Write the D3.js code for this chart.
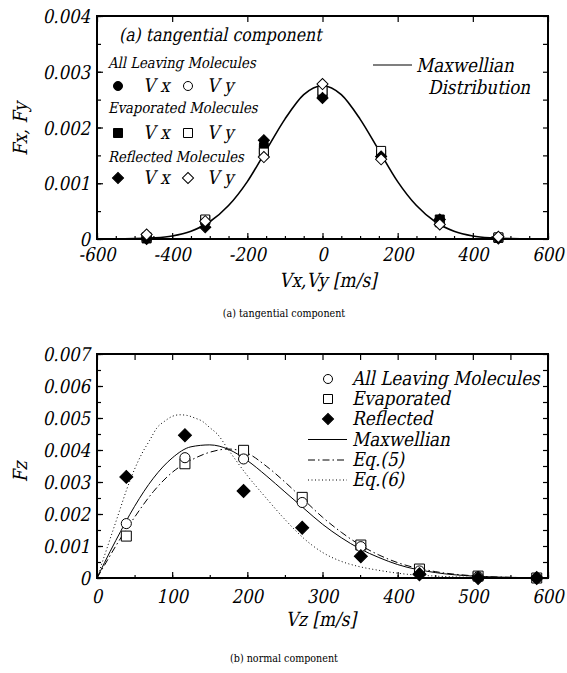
<!DOCTYPE html>
<html><head><meta charset="utf-8">
<script src="https://cdn.jsdelivr.net/npm/d3@7"></script>
<style>
body{margin:0;background:#fff}
svg{display:block}
svg text{font-family:"DejaVu Serif",serif}
</style>
</head><body>
<svg id="c" width="567" height="673"></svg>
<script>
// ---------- DATA: (a) tangential component ----------
const vTan   = [-468, -312, -156, 0, 156, 312, 468];
const allVx  = [0.00002, 0.00030, 0.00170, 0.00256, 0.00150, 0.00034, 0.00002];
const allVy  = [0.00004, 0.00032, 0.00150, 0.00272, 0.00148, 0.00030, 0.00003];
const evapVx = [0.00001, 0.00034, 0.00160, 0.00262, 0.00152, 0.00035, 0.00002];
const evapVy = [0.00003, 0.00035, 0.00155, 0.00266, 0.00158, 0.00030, 0.00003];
const reflVx = [0.00000, 0.00021, 0.00177, 0.00253, 0.00148, 0.00035, 0.00001];
const reflVy = [0.00008, 0.00032, 0.00147, 0.00278, 0.00143, 0.00026, 0.00004];
const maxTanV = [-600,-550,-500,-450,-400,-350,-300,-250,-200,-150,-100,-50,0,50,100,150,200,250,300,350,400,450,500,550,600];
const maxTanF = [0,0.000002,0.000006,0.00002,0.000055,0.00014,0.00031,0.0006,0.00103,0.00159,0.00215,0.00259,0.00275,
                 0.00259,0.00215,0.00159,0.00103,0.0006,0.00031,0.00014,0.000055,0.00002,0.000006,0.000002,0];
const xTicksA = [-600,-400,-200,0,200,400,600];
const yTicksA = [0,0.001,0.002,0.003,0.004];
const yLabelsA = ["0","0.001","0.002","0.003","0.004"];

// ---------- DATA: (b) normal component ----------
const vNorm = [39, 117, 195, 273, 351, 429, 507, 585];
const allZ  = [0.00170, 0.00376, 0.00372, 0.00236, 0.00098, 0.00022, 0.00004, 0.00000];
const evapZ = [0.00131, 0.00357, 0.00399, 0.00252, 0.00103, 0.00028, 0.00006, 0.00000];
const reflZ = [0.00316, 0.00446, 0.00272, 0.00157, 0.00068, 0.00012, 0.00000, 0.00000];
const curveV = [0,10,25,50,75,100,125,150,175,200,225,250,275,300,325,350,375,400,450,500,550,600];
const maxZ = [0,0.00048,0.00117,0.00224,0.00312,0.00375,0.0041,0.00416,0.00402,0.00367,0.0032,0.00269,0.00218,0.00168,0.00126,0.00091,0.00064,0.00042,0.00017,0.00006,0.00002,0.000005];
const eq5Z = [0,0.0004,0.001,0.0019,0.0027,0.0033,0.00368,0.00393,0.00403,0.0039,0.0035,0.003,0.00245,0.0019,0.00143,0.00103,0.00072,0.00048,0.0002,0.00007,0.00002,0.000005];
const eq6V = [0,10,20,30,40,50,60,70,80,90,100,110,120,130,140,150,160,175,200,225,250,275,300,325,350,375,400,450,500,550,600];
const eq6Z = [0,0.0007,0.0014,0.0021,0.0028,0.0034,0.0039,0.0043,0.0047,0.0049,0.00505,0.0051,0.00508,0.005,0.0049,0.0047,0.0045,0.0040,0.0032,0.0025,0.00183,0.00124,0.0008,0.00052,0.00035,0.00024,0.00015,0.00006,0.00002,0.000005,0];
const xTicksB = [0,100,200,300,400,500,600];
const yTicksB = [0,0.001,0.002,0.003,0.004,0.005,0.006,0.007];
const yLabelsB = ["0","0.001","0.002","0.003","0.004","0.005","0.006","0.007"];

// ---------- DRAWING ----------
const svg = d3.select("#c");
const TF = 19;
const SKEW = -12, SX = 0.87;

function txt(g, x, y, s, size, italic, anchor, rot){
  const t = g.append("text").text(s)
    .attr("font-size",size).attr("fill","#000")
    .attr("text-anchor",anchor||"start");
  let tr = `translate(${x},${y})`;
  if(rot) tr += ` rotate(${rot})`;
  if(italic) tr += ` skewX(${SKEW})`;
  tr += ` scale(${SX},1)`;
  t.attr("transform",tr);
  return t;
}

function frameAxes(g, x, y, opt){
  const [x0,x1] = x.range(), [y1,y0] = y.range();
  const add = (ax, tx, ty) => {
    const a = g.append("g").attr("transform",`translate(${tx},${ty})`).call(ax);
    a.select(".domain").remove();
    a.selectAll("text").remove();
  };
  add(d3.axisBottom(x).tickValues(opt.xMinor).tickSizeInner(-3).tickSizeOuter(0), 0, y1);
  add(d3.axisBottom(x).tickValues(opt.xMajor).tickSizeInner(-6).tickSizeOuter(0), 0, y1);
  add(d3.axisTop(x).tickValues(opt.xTop).tickSizeInner(-6).tickSizeOuter(0), 0, y0);
  add(d3.axisLeft(y).tickValues(opt.yMinor).tickSizeInner(-4).tickSizeOuter(0), x0, 0);
  add(d3.axisLeft(y).tickValues(opt.yMajor).tickSizeInner(-6).tickSizeOuter(0), x0, 0);
  add(d3.axisRight(y).tickValues(opt.yMinor).tickSizeInner(-5).tickSizeOuter(0), x1, 0);
  g.selectAll(".tick line").attr("stroke","#000").attr("stroke-width",1.2);
  opt.xMajor.forEach(v => txt(g, x(v), y1 + opt.xLabDy, String(v), TF, true, "middle"));
  opt.yMajor.forEach((v,i) => txt(g, x0 - 7, y(v) + 7, opt.yLabels[i], TF, true, "end"));
  g.append("rect").attr("x",x0).attr("y",y0).attr("width",x1-x0).attr("height",y1-y0)
    .attr("fill","none").attr("stroke","#000").attr("stroke-width",2);
}

function sym(type, size){
  return d3.symbol(type==="circle"?d3.symbolCircle:d3.symbolSquare, size)();
}
function drawMarkers(g, xs, ys, x, y, type, filled, size){
  g.append("g").selectAll("path").data(xs.map((v,i)=>[v,ys[i]])).join("path")
    .attr("d", sym(type,size))
    .attr("transform", d=>`translate(${x(d[0])},${y(d[1])})${type==="diamond"?" rotate(45)":""}`)
    .attr("fill", filled?"#000":"#fff").attr("stroke","#000").attr("stroke-width",1);
}
function marker(g, cx, cy, type, filled, size){
  g.append("path").attr("d",sym(type,size))
    .attr("transform",`translate(${cx},${cy})${type==="diamond"?" rotate(45)":""}`)
    .attr("fill", filled?"#000":"#fff").attr("stroke","#000").attr("stroke-width",1);
}

// ===== Chart (a) =====
const gA = svg.append("g");
const xA = d3.scaleLinear().domain([-600,600]).range([97,548]);
const yA = d3.scaleLinear().domain([0,0.004]).range([239,16]);
frameAxes(gA, xA, yA, {
  xMajor: xTicksA, xMinor: d3.range(-600,601,50), xTop: xTicksA,
  yMajor: yTicksA, yMinor: d3.range(0,0.00401,0.0005), yLabels: yLabelsA, xLabDy: 22
});
gA.append("path").datum(maxTanV.map((v,i)=>[v,maxTanF[i]]))
  .attr("d", d3.line().x(d=>xA(d[0])).y(d=>yA(d[1])).curve(d3.curveMonotoneX))
  .attr("fill","none").attr("stroke","#000").attr("stroke-width",1.6);
drawMarkers(gA, vTan, allVx, xA, yA, "circle", true, 64);
drawMarkers(gA, vTan, allVy, xA, yA, "circle", false, 64);
drawMarkers(gA, vTan, evapVx, xA, yA, "square", true, 81);
drawMarkers(gA, vTan, evapVy, xA, yA, "square", false, 81);
drawMarkers(gA, vTan, reflVx, xA, yA, "diamond", true, 62);
drawMarkers(gA, vTan, reflVy, xA, yA, "diamond", false, 62);

txt(gA, 119, 41, "(a) tangential component", 18.2, true);
const legA = [
  {t:"All Leaving Molecules", y:63, type:"circle", s:64},
  {t:"Evaporated Molecules", y:108, type:"square", s:81},
  {t:"Reflected Molecules", y:157, type:"diamond", s:62}
];
const rowDy = [23, 25, 21];
legA.forEach((L,i)=>{
  txt(gA, 108, L.y+5, L.t, 15.2, true);
  const ry = L.y + rowDy[i];
  marker(gA, 118, ry, L.type, true, L.s);
  txt(gA, 143, ry+6, "V x", 19, true);
  marker(gA, 188, ry, L.type, false, L.s);
  txt(gA, 207, ry+6, "V y", 19, true);
});
gA.append("line").attr("x1",373).attr("x2",412).attr("y1",65).attr("y2",65).attr("stroke","#000").attr("stroke-width",1.2);
txt(gA, 416, 72, "Maxwellian", 19.3, true);
txt(gA, 428, 94, "Distribution", 19.3, true);
txt(gA, 27, 129, "Fx,  Fy", 19.5, true, "middle", -90);
txt(gA, 328, 287, "Vx,Vy  [m/s]", 19.5, true, "middle");
txt(gA, 284, 317, "(a) tangential component", 11, false, "middle");

// ===== Chart (b) =====
const gB = svg.append("g");
const xB = d3.scaleLinear().domain([0,600]).range([97,548]);
const yB = d3.scaleLinear().domain([0,0.007]).range([578,354]);
frameAxes(gB, xB, yB, {
  xMajor: xTicksB, xMinor: d3.range(0,601,50), xTop: d3.range(0,601,50),
  yMajor: yTicksB, yMinor: d3.range(0,0.00701,0.0005), yLabels: yLabelsB, xLabDy: 25
});
const lineB = d3.line().x(d=>xB(d[0])).y(d=>yB(d[1])).curve(d3.curveMonotoneX);
gB.append("path").datum(eq6V.map((v,i)=>[v,eq6Z[i]])).attr("d",lineB)
  .attr("fill","none").attr("stroke","#000").attr("stroke-width",1).attr("stroke-dasharray","1,2.5");
gB.append("path").datum(curveV.map((v,i)=>[v,eq5Z[i]])).attr("d",lineB)
  .attr("fill","none").attr("stroke","#000").attr("stroke-width",1).attr("stroke-dasharray","7,3,1.5,3");
gB.append("path").datum(curveV.map((v,i)=>[v,maxZ[i]])).attr("d",lineB)
  .attr("fill","none").attr("stroke","#000").attr("stroke-width",1);
drawMarkers(gB, vNorm, evapZ, xB, yB, "square", false, 100);
drawMarkers(gB, vNorm, allZ, xB, yB, "circle", false, 80);
drawMarkers(gB, vNorm, reflZ, xB, yB, "diamond", true, 85);

const legB = [
  {t:"All Leaving Molecules", y:379, kind:"circle"},
  {t:"Evaporated", y:399, kind:"square"},
  {t:"Reflected", y:419, kind:"diamond"},
  {t:"Maxwellian", y:439.5, kind:"solid"},
  {t:"Eq.(5)", y:460, kind:"dashdot"},
  {t:"Eq.(6)", y:480, kind:"dot"}
];
legB.forEach(L=>{
  if(L.kind==="circle") marker(gB, 328, L.y, "circle", false, 64);
  else if(L.kind==="square") marker(gB, 328, L.y, "square", false, 81);
  else if(L.kind==="diamond") marker(gB, 328, L.y, "diamond", true, 62);
  else {
    const ln = gB.append("line").attr("x1",308).attr("x2",347).attr("y1",L.y).attr("y2",L.y)
      .attr("stroke","#000").attr("stroke-width",1);
    if(L.kind==="dashdot") ln.attr("stroke-dasharray","7,3,1.5,3");
    if(L.kind==="dot") ln.attr("stroke-dasharray","1,2.5");
  }
  txt(gB, 352, L.y+6, L.t, 19.3, true);
});
txt(gB, 27, 472, "Fz", 19.5, true, "middle", -90);
txt(gB, 321, 626, "Vz [m/s]", 19.5, true, "middle");
txt(gB, 284, 662, "(b) normal component", 11, false, "middle");
</script>
</body></html>
